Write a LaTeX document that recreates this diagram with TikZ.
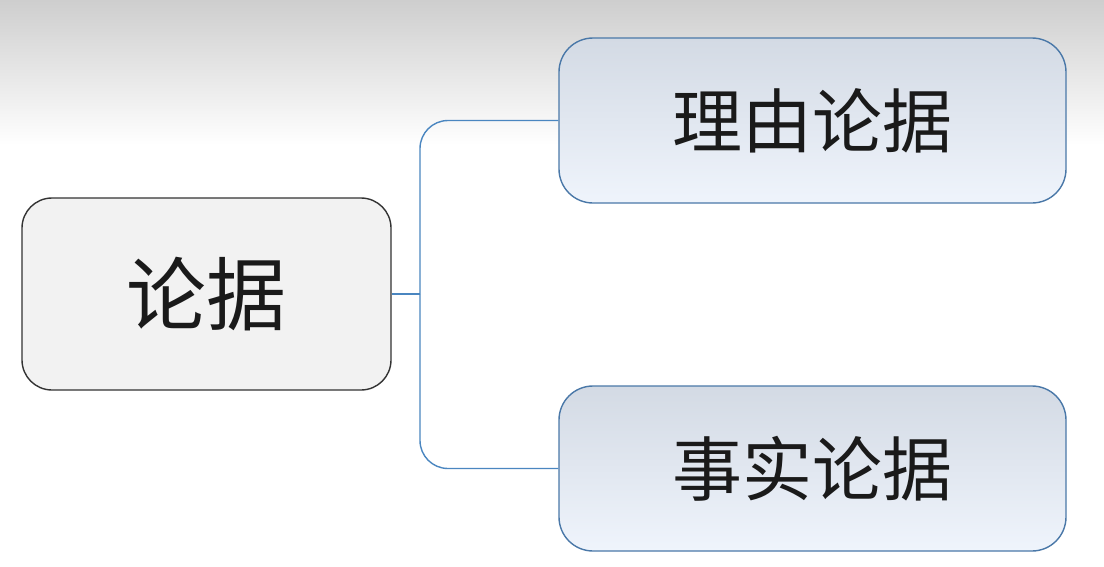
\documentclass[tikz,border=0pt]{standalone}
\usepackage{fontspec}
\newfontfamily\cjk{Noto Sans CJK SC}
\definecolor{bgtop}{HTML}{CECECE}
\definecolor{leftfill}{HTML}{F2F2F2}
\definecolor{leftdraw}{HTML}{333333}
\definecolor{rtop}{HTML}{D3DAE4}
\definecolor{rbot}{HTML}{EFF4FC}
\definecolor{rdraw}{HTML}{4A78A8}
\definecolor{link}{HTML}{4A86C0}
\definecolor{txt}{HTML}{1A1A1A}
\tikzset{
  rootbox/.style={draw=leftdraw, fill=leftfill, line width=1.4pt, rounded corners=30pt,
    minimum width=369pt, minimum height=192pt, inner sep=0pt,
    font=\cjk\fontsize{80}{80}\selectfont, text=txt},
  childbox/.style={draw=rdraw, top color=rtop, bottom color=rbot, line width=1.4pt, rounded corners=34pt,
    minimum width=507pt, minimum height=165pt, inner sep=0pt,
    font=\cjk\fontsize{70}{70}\selectfont, text=txt},
  linkline/.style={draw=link, line width=1.4pt, rounded corners=28pt}
}
\begin{document}
\begin{tikzpicture}[x=1pt,y=-1pt]
\useasboundingbox (0,0) rectangle (1104,566);
\fill[white] (0,0) rectangle (1104,566);
\shade[top color=bgtop, bottom color=white] (0,0) rectangle (1104,145);
\node[rootbox] (root) at (206.5,294) {论据};
\node[childbox] (c1) at (812.5,120.5) {理由论据};
\node[childbox] (c2) at (812.5,468.5) {事实论据};
\coordinate (j) at (420,294);
\draw[linkline] (root.east) -- (j);
\draw[linkline] (j) |- (c1.west);
\draw[linkline] (j) |- (c2.west);
\end{tikzpicture}
\end{document}
